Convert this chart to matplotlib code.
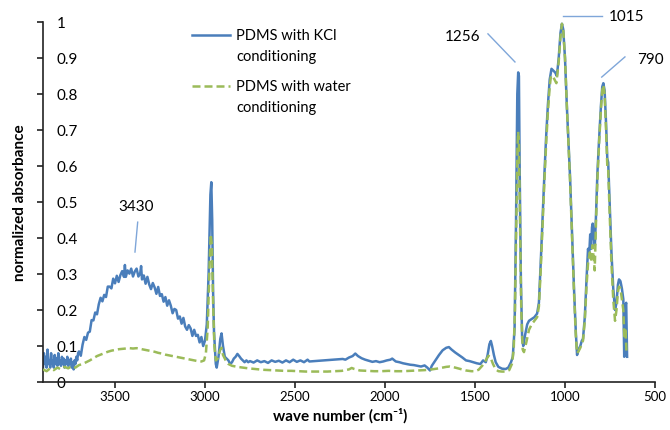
"""Normalized FTIR absorbance of PDMS after KCl and water conditioning."""

import matplotlib
matplotlib.use("Agg")
import matplotlib.pyplot as plt
from matplotlib.legend_handler import HandlerLine2D

plt.rcParams["font.family"] = ["Lato", "DejaVu Sans"]

# PDMS with KCl conditioning (wave number, normalized absorbance)
kcl_wn = [3900, 3895, 3890, 3885, 3880, 3875, 3870, 3865, 3860, 3855,
          3850, 3845, 3840, 3835, 3830, 3825, 3820, 3815, 3810, 3805,
          3800, 3795, 3790, 3785, 3780, 3775, 3770, 3765, 3760, 3755,
          3750, 3745, 3740, 3735, 3730, 3725, 3720, 3715, 3710, 3705,
          3700, 3690, 3680, 3670, 3660, 3650, 3640, 3630, 3620, 3610,
          3600, 3590, 3580, 3570, 3560, 3550, 3540, 3530, 3520, 3510,
          3500, 3490, 3480, 3470, 3460, 3450, 3445, 3440, 3430, 3420,
          3410, 3400, 3390, 3380, 3370, 3360, 3355, 3350, 3340, 3330,
          3320, 3310, 3300, 3290, 3280, 3270, 3260, 3250, 3240, 3230,
          3220, 3210, 3200, 3190, 3180, 3170, 3160, 3150, 3140, 3130,
          3120, 3110, 3100, 3090, 3080, 3070, 3060, 3050, 3040, 3030,
          3020, 3010, 3000, 2990, 2980, 2970, 2965, 2960, 2955, 2950,
          2940, 2935, 2925, 2915, 2908, 2900, 2890, 2880, 2870, 2860,
          2850, 2840, 2830, 2820, 2810, 2800, 2790, 2780, 2770, 2760,
          2750, 2730, 2710, 2690, 2670, 2650, 2630, 2610, 2590, 2570,
          2550, 2530, 2510, 2490, 2470, 2450, 2430, 2420, 2235, 2220,
          2200, 2180, 2165, 2150, 2130, 2110, 2090, 2070, 2050, 2030,
          2010, 1990, 1970, 1960, 1940, 1920, 1900, 1880, 1860, 1840,
          1820, 1800, 1780, 1765, 1750, 1740, 1720, 1700, 1680, 1660,
          1645, 1630, 1610, 1590, 1570, 1550, 1530, 1510, 1490, 1470,
          1455, 1440, 1430, 1420, 1412, 1405, 1395, 1385, 1370, 1350,
          1330, 1315, 1300, 1290, 1280, 1272, 1265, 1260, 1256, 1252,
          1245, 1238, 1232, 1222, 1210, 1200, 1185, 1170, 1155, 1145,
          1135, 1125, 1115, 1105, 1095, 1085, 1075, 1065, 1055, 1045,
          1035, 1025, 1017, 1010, 1000, 990, 980, 972, 960, 950,
          940, 933, 925, 915, 907, 900, 890, 880, 872, 866,
          860, 855, 850, 846, 840, 834, 828, 820, 810, 800,
          793, 787, 780, 772, 765, 760, 752, 742, 732, 722,
          714, 706, 700, 692, 684, 676, 671, 666, 660, 655]
kcl_abs = [0.04, 0.08, 0.05, 0.07, 0.04, 0.09, 0.05, 0.06, 0.04, 0.08,
           0.05, 0.06, 0.04, 0.075, 0.05, 0.065, 0.045, 0.08, 0.05, 0.06,
           0.045, 0.07, 0.05, 0.065, 0.04, 0.06, 0.05, 0.07, 0.045, 0.06,
           0.05, 0.065, 0.04, 0.055, 0.035, 0.06, 0.05, 0.07, 0.06, 0.08,
           0.085, 0.073, 0.104, 0.125, 0.117, 0.137, 0.14, 0.172, 0.171, 0.193,
           0.188, 0.216, 0.234, 0.224, 0.242, 0.236, 0.265, 0.265, 0.26, 0.287,
           0.274, 0.295, 0.278, 0.297, 0.308, 0.292, 0.325, 0.292, 0.31, 0.301,
           0.315, 0.293, 0.307, 0.315, 0.293, 0.302, 0.322, 0.285, 0.296, 0.273,
           0.292, 0.271, 0.258, 0.275, 0.263, 0.245, 0.264, 0.239, 0.244, 0.223,
           0.236, 0.212, 0.227, 0.212, 0.191, 0.203, 0.20, 0.176, 0.182, 0.162,
           0.178, 0.154, 0.145, 0.158, 0.149, 0.128, 0.145, 0.128, 0.131, 0.11,
           0.125, 0.10, 0.115, 0.16, 0.30, 0.52, 0.555, 0.45, 0.25, 0.14,
           0.05, 0.04, 0.07, 0.12, 0.135, 0.10, 0.07, 0.065, 0.06, 0.05,
           0.055, 0.065, 0.07, 0.078, 0.072, 0.065, 0.06, 0.055, 0.06, 0.055,
           0.058, 0.054, 0.06, 0.055, 0.058, 0.053, 0.06, 0.056, 0.059, 0.054,
           0.06, 0.055, 0.062, 0.056, 0.06, 0.055, 0.062, 0.057, 0.064, 0.062,
           0.068, 0.072, 0.079, 0.072, 0.066, 0.062, 0.059, 0.056, 0.058, 0.055,
           0.057, 0.06, 0.062, 0.065, 0.057, 0.055, 0.052, 0.05, 0.048, 0.047,
           0.045, 0.043, 0.046, 0.04, 0.032, 0.045, 0.06, 0.075, 0.088, 0.095,
           0.097, 0.09, 0.082, 0.075, 0.068, 0.06, 0.058, 0.055, 0.052, 0.05,
           0.06, 0.055, 0.075, 0.105, 0.114, 0.10, 0.075, 0.055, 0.042, 0.037,
           0.036, 0.04, 0.055, 0.07, 0.15, 0.45, 0.80, 0.86, 0.85, 0.60,
           0.28, 0.12, 0.10, 0.13, 0.16, 0.17, 0.175, 0.18, 0.19, 0.22,
           0.33, 0.45, 0.57, 0.68, 0.77, 0.84, 0.87, 0.865, 0.86, 0.85,
           0.90, 0.97, 0.995, 0.98, 0.90, 0.77, 0.66, 0.57, 0.40, 0.26,
           0.14, 0.075, 0.09, 0.10, 0.114, 0.12, 0.18, 0.29, 0.37, 0.35,
           0.41, 0.37, 0.43, 0.44, 0.40, 0.38, 0.46, 0.58, 0.68, 0.77,
           0.82, 0.83, 0.81, 0.72, 0.62, 0.61, 0.50, 0.36, 0.26, 0.20,
           0.22, 0.27, 0.285, 0.28, 0.26, 0.23, 0.07, 0.21, 0.22, 0.07]

# PDMS with water conditioning
water_wn = [3900, 3880, 3860, 3840, 3820, 3800, 3780, 3760, 3740, 3720,
            3700, 3680, 3660, 3640, 3620, 3600, 3580, 3560, 3540, 3520,
            3500, 3480, 3460, 3440, 3420, 3400, 3380, 3360, 3340, 3320,
            3300, 3280, 3260, 3240, 3220, 3200, 3180, 3160, 3140, 3120,
            3100, 3080, 3060, 3040, 3020, 3005, 2995, 2985, 2975, 2968,
            2962, 2955, 2948, 2940, 2930, 2915, 2908, 2900, 2885, 2870,
            2850, 2820, 2790, 2760, 2720, 2680, 2640, 2600, 2560, 2520,
            2480, 2440, 2400, 2360, 2320, 2280, 2240, 2200, 2185, 2170,
            2140, 2100, 2060, 2020, 1980, 1940, 1900, 1860, 1820, 1780,
            1740, 1700, 1660, 1640, 1610, 1580, 1550, 1520, 1500, 1480,
            1460, 1440, 1425, 1415, 1400, 1385, 1370, 1350, 1330, 1310,
            1295, 1285, 1278, 1270, 1264, 1260, 1256, 1250, 1243, 1235,
            1228, 1215, 1200, 1185, 1170, 1155, 1145, 1135, 1125, 1115,
            1105, 1095, 1085, 1078, 1068, 1058, 1048, 1035, 1025, 1017,
            1010, 1000, 990, 980, 972, 960, 950, 940, 933, 925,
            915, 907, 900, 890, 880, 872, 862, 855, 848, 840,
            835, 828, 820, 810, 800, 793, 787, 780, 772, 765,
            760, 752, 742, 732, 722, 714, 706, 700, 692, 684,
            676, 670, 664, 658]
water_abs = [0.035, 0.03, 0.038, 0.033, 0.04, 0.035, 0.042, 0.038, 0.044, 0.04,
             0.047, 0.05, 0.055, 0.06, 0.066, 0.072, 0.076, 0.08, 0.084, 0.087,
             0.089, 0.091, 0.092, 0.093, 0.094, 0.093, 0.094, 0.092, 0.09, 0.088,
             0.086, 0.084, 0.081, 0.079, 0.076, 0.074, 0.072, 0.07, 0.068, 0.066,
             0.064, 0.062, 0.06, 0.058, 0.057, 0.06, 0.08, 0.15, 0.32, 0.41,
             0.38, 0.22, 0.10, 0.06, 0.065, 0.09, 0.095, 0.075, 0.06, 0.05,
             0.045, 0.042, 0.04, 0.038, 0.036, 0.034, 0.033, 0.032, 0.031, 0.031,
             0.03, 0.029, 0.029, 0.029, 0.029, 0.03, 0.031, 0.035, 0.039, 0.036,
             0.032, 0.031, 0.03, 0.03, 0.031, 0.03, 0.03, 0.031, 0.032, 0.033,
             0.035, 0.038, 0.042, 0.043, 0.04, 0.036, 0.032, 0.03, 0.03, 0.034,
             0.045, 0.06, 0.073, 0.07, 0.05, 0.035, 0.03, 0.029, 0.029, 0.033,
             0.05, 0.09, 0.2, 0.45, 0.65, 0.695, 0.66, 0.45, 0.2, 0.09,
             0.083, 0.11, 0.145, 0.16, 0.17, 0.18, 0.21, 0.31, 0.43, 0.55,
             0.66, 0.75, 0.82, 0.85, 0.85, 0.84, 0.83, 0.89, 0.96, 0.995,
             0.98, 0.90, 0.77, 0.65, 0.56, 0.39, 0.25, 0.13, 0.08, 0.085,
             0.095, 0.105, 0.115, 0.17, 0.27, 0.33, 0.36, 0.34, 0.38, 0.34,
             0.31, 0.44, 0.56, 0.67, 0.76, 0.81, 0.825, 0.80, 0.70, 0.60,
             0.59, 0.47, 0.33, 0.23, 0.17, 0.20, 0.25, 0.265, 0.26, 0.23,
             0.20, 0.12, 0.15, 0.08]

x_ticks = [3500, 3000, 2500, 2000, 1500, 1000, 500]
y_ticks = [0, 0.1, 0.2, 0.3, 0.4, 0.5, 0.6, 0.7, 0.8, 0.9, 1]
y_tick_labels = ["0", "0.1", "0.2", "0.3", "0.4", "0.5", "0.6", "0.7", "0.8", "0.9", "1"]

# peak labels: text, text position, leader line start and end
peak_notes = [
    ("3430", (3380, 0.49), (3374, 0.444), (3389, 0.361)),
    ("1256", (1567, 0.961), (1428, 0.967), (1278, 0.889)),
    ("1015", (660, 1.017), (1011, 1.017), (794, 1.017)),
    ("790", (528, 0.897), (667, 0.903), (796, 0.847)),
]

BLUE = "#4a7ebb"
GREEN = "#9bbb59"
NOTE = "#7fa6d9"

assert len(kcl_wn) == len(kcl_abs)
assert len(water_wn) == len(water_abs)

fig = plt.figure(figsize=(6.7, 4.31), dpi=100)
ax = fig.add_axes([43 / 670, 48 / 431, 612 / 670, 360 / 431])

kcl_line, = ax.plot(kcl_wn, kcl_abs, color=BLUE, lw=1.8, zorder=2,
                    label="PDMS with KCl\nconditioning")
water_line, = ax.plot(water_wn, water_abs, color=GREEN, lw=1.8, zorder=3,
                      dashes=(3.2, 1.6), label="PDMS with water\nconditioning")

for text, text_xy, start, end in peak_notes:
    ax.plot([start[0], end[0]], [start[1], end[1]], color=NOTE, lw=1.0, clip_on=False)
    ax.text(text_xy[0], text_xy[1], text, fontsize=11, ha="center", va="center")

ax.set_xlim(3900, 500)
ax.set_ylim(0, 1)
ax.set_xticks(x_ticks)
ax.set_xticklabels([str(t) for t in x_ticks], fontsize=9.5)
ax.set_yticks(y_ticks)
ax.set_yticklabels(y_tick_labels, fontsize=11, ha="left")

for side in ("top", "right"):
    ax.spines[side].set_visible(False)
for side in ("left", "bottom"):
    ax.spines[side].set_linewidth(1.2)
    ax.spines[side].set_color("#222222")
ax.tick_params(axis="x", direction="out", length=4, width=1.2, pad=2, color="#222222")
ax.tick_params(axis="y", direction="out", length=4.5, width=1.2, pad=-14.5, color="#222222")

ax.set_xlabel("wave number (cm\u207b\u00b9)", fontsize=11, fontweight="bold", va="top")
ax.xaxis.set_label_coords(0.485, -0.07)
ax.set_ylabel("normalized absorbance", fontsize=11, fontweight="bold")
ax.yaxis.set_label_coords(-0.026, 0.5)


def lift_handle(legend_handle, orig_handle):
    # put the legend sample beside the first line of the two-line label
    legend_handle.update_from(orig_handle)
    legend_handle.set_ydata(legend_handle.get_ydata() + 8)


lift = HandlerLine2D(update_func=lift_handle)
legend = ax.legend(handles=[kcl_line, water_line], handler_map={kcl_line: lift, water_line: lift},
                   loc="upper left", bbox_to_anchor=(0.243, 0.983), frameon=False, fontsize=10.5,
                   handlelength=2.6, handletextpad=0.45, labelspacing=1.1, borderpad=0,
                   borderaxespad=0)
for t in legend.get_texts():
    t.set_linespacing(1.65)

fig.savefig("out.png", dpi=100)
plt.close(fig)
